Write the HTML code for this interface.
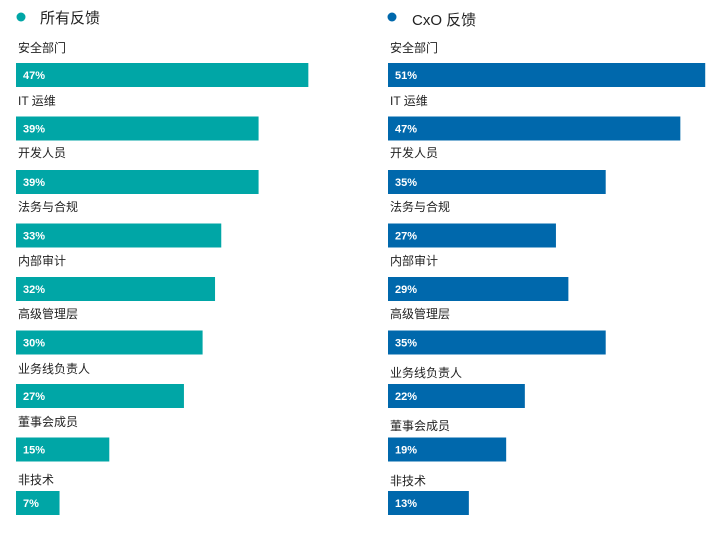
<!DOCTYPE html>
<html><head><meta charset="utf-8"><style>
body{margin:0;width:712px;height:545px;background:#fff;overflow:hidden;font-family:"Liberation Sans","Noto Sans CJK SC",sans-serif;}
svg text{font-family:"Liberation Sans","Noto Sans CJK SC",sans-serif;}
</style></head><body>
<svg id="chart" width="712" height="545">
<circle cx="21" cy="17" r="4.5" fill="#00A6A6"/>
<text x="40" y="23" font-size="15" fill="#222">所有反馈</text>
<circle cx="392" cy="17" r="4.5" fill="#0068AC"/>
<text x="412" y="25" font-size="15" fill="#222">CxO 反馈</text>
</svg>
<script>
const categories=["安全部门","IT 运维","开发人员","法务与合规","内部审计","高级管理层","业务线负责人","董事会成员","非技术"];
const allValues=[47,39,39,33,32,30,27,15,7];
const cxoValues=[51,47,35,27,29,35,22,19,13];
const svg=document.getElementById('chart');
const NS='http://www.w3.org/2000/svg';
const scale=v=>v*6.22;
const barY=i=>63+i*53.5;
const labelYsLeft=[47,100,152,206,260,313,368,421,479];
const labelYsRight=[47,100,152,206,260,313,372,425,480];
function panel(x0,vals,color,labelYs,key){
  vals.forEach((v,i)=>{
    const t=document.createElementNS(NS,'text');
    t.setAttribute('x',x0+2);t.setAttribute('y',labelYs[i]+5);
    t.setAttribute('font-size','12');t.setAttribute('fill','#222');
    t.textContent=categories[i];
    
    
    svg.appendChild(t);
    const r=document.createElementNS(NS,'rect');
    r.setAttribute('x',x0);r.setAttribute('y',barY(i));
    r.setAttribute('width',scale(v));r.setAttribute('height',24);
    r.setAttribute('fill',color);
    
    
    svg.appendChild(r);
    const l=document.createElementNS(NS,'text');
    l.setAttribute('x',x0+7);l.setAttribute('y',barY(i)+16);
    l.setAttribute('font-size','11');l.setAttribute('font-weight','bold');l.setAttribute('fill','#fff');
    l.textContent=v+'%';
    
    
    svg.appendChild(l);
  });
}
panel(16,allValues,'#00A6A6',labelYsLeft,'all');
panel(388,cxoValues,'#0068AC',labelYsRight,'cxo');
</script>
</body></html>
